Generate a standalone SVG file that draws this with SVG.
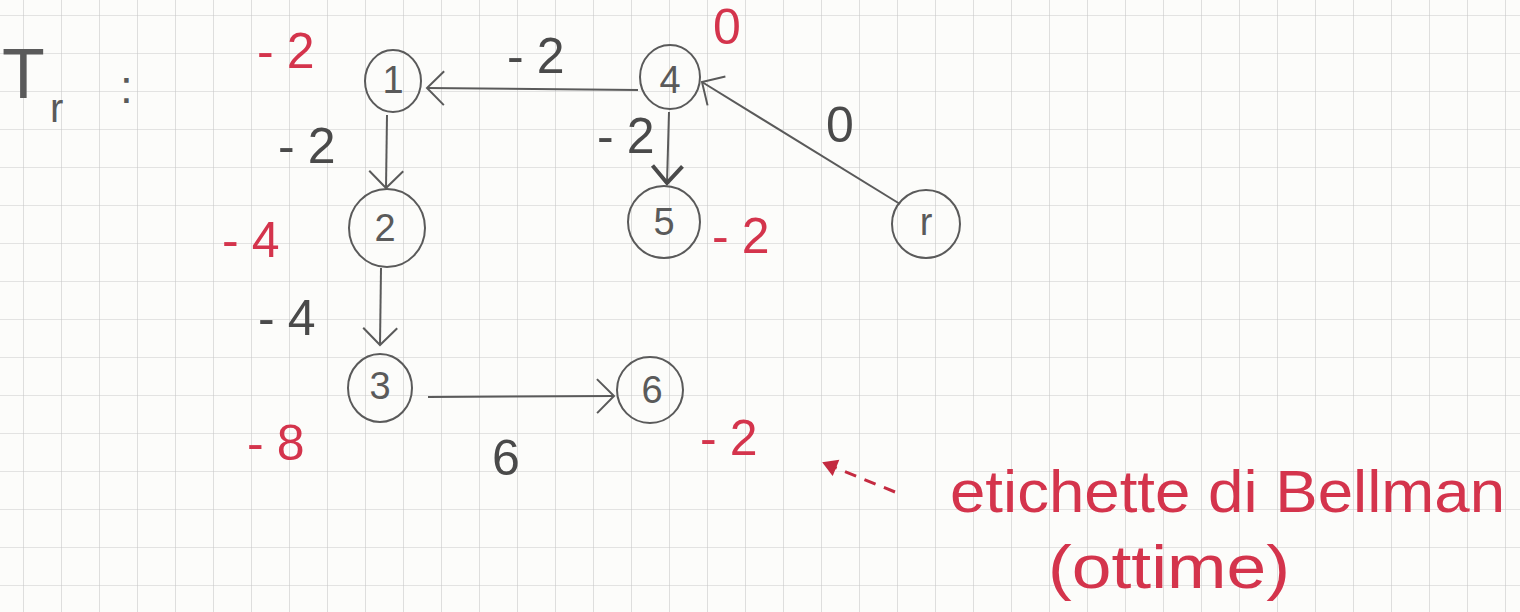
<svg xmlns="http://www.w3.org/2000/svg" width="1520" height="612" viewBox="0 0 1520 612">
<style>
.node ellipse{fill:none;stroke:#5a5a5a;stroke-width:2}
.node text{font-family:"Liberation Sans",Arial,sans-serif;font-size:38px;fill:#5a5a5a;text-anchor:middle;dominant-baseline:central}
.lbl{font-family:"Liberation Sans",Arial,sans-serif;font-size:50px;fill:#4a4a4a;letter-spacing:13px}
.red{font-family:"Liberation Sans",Arial,sans-serif;font-size:50px;fill:#d4344c;letter-spacing:13px}
.edge{stroke:#5a5a5a;stroke-width:2;fill:none}
</style>
<defs>
<pattern id="grid" x="23" y="15" width="38" height="38" patternUnits="userSpaceOnUse">
<path d="M0,0 H38 M0,0 V38" stroke="#c9c9c9" stroke-width="1.2" fill="none"/>
</pattern>
<marker id="arr" viewBox="-20 -20 24 40" markerWidth="24" markerHeight="40" refX="0" refY="0" orient="auto" markerUnits="userSpaceOnUse">
<path d="M-17,-17 L0,0 L-17,17" stroke="#5a5a5a" stroke-width="2" fill="none"/>
</marker>
<marker id="arrb" viewBox="-20 -20 24 40" markerWidth="24" markerHeight="40" refX="0" refY="0" orient="auto" markerUnits="userSpaceOnUse">
<path d="M-17,-15 L0,0 L-17,15" stroke="#4a4a4a" stroke-width="4" fill="none"/>
</marker>
<marker id="arrr" viewBox="-14 -10 16 20" markerWidth="16" markerHeight="20" refX="0" refY="0" orient="auto" markerUnits="userSpaceOnUse">
<path d="M-12,-7 L0,0 L-12,7 Z" fill="#c42a40" stroke="#c42a40" stroke-width="2"/>
</marker>
</defs>
<rect width="1520" height="612" fill="#fcfcfa"/>
<rect width="1520" height="612" fill="url(#grid)"/>

<g id="title" fill="#5a5a5a" font-family="'Liberation Sans',Arial,sans-serif">
<text x="2" y="98" font-size="70">T</text>
<text x="50" y="122" font-size="40">r</text>
<text x="120" y="103" font-size="46">:</text>
</g>

<g id="connectors">
<line class="edge" x1="638" y1="90" x2="427" y2="88" marker-end="url(#arr)"/>
<line class="edge" x1="387" y1="115" x2="386" y2="188" marker-end="url(#arr)"/>
<line class="edge" x1="381" y1="268" x2="380" y2="345" marker-end="url(#arr)"/>
<line class="edge" x1="428" y1="397" x2="614" y2="396" marker-end="url(#arr)"/>
<line class="edge" x1="669" y1="112" x2="667" y2="183" marker-end="url(#arrb)"/>
<line class="edge" x1="900" y1="204" x2="702" y2="82" marker-end="url(#arr)"/>
</g>

<g id="node-1" class="node"><ellipse cx="393" cy="81" rx="28" ry="31"/><text x="393" y="80">1</text></g>
<g id="node-4" class="node"><ellipse cx="670" cy="77" rx="30" ry="32"/><text x="670" y="80">4</text></g>
<g id="node-2" class="node"><ellipse cx="387" cy="228" rx="38" ry="39"/><text x="385" y="228">2</text></g>
<g id="node-5" class="node"><ellipse cx="664" cy="222" rx="36" ry="36"/><text x="664" y="222">5</text></g>
<g id="node-r" class="node"><ellipse cx="926" cy="224" rx="34" ry="34"/><text x="926" y="222">r</text></g>
<g id="node-3" class="node"><ellipse cx="380" cy="388" rx="32" ry="34"/><text x="380" y="386">3</text></g>
<g id="node-6" class="node"><ellipse cx="650" cy="390" rx="33" ry="33"/><text x="652" y="390">6</text></g>

<g id="edge-labels">
<text class="lbl" x="507" y="73">-2</text>
<text class="lbl" x="278" y="163">-2</text>
<text class="lbl" x="258" y="335">-4</text>
<text class="lbl" x="492" y="475">6</text>
<text class="lbl" x="597" y="153" font-size="42">-2</text>
<text class="lbl" x="826" y="142" font-size="42">0</text>
</g>

<g id="bellman-labels">
<text class="red" x="257" y="68">-2</text>
<text class="red" x="222" y="257">-4</text>
<text class="red" x="247" y="460">-8</text>
<text class="red" x="713" y="44" font-size="30" letter-spacing="0">0</text>
<text class="red" x="712" y="253">-2</text>
<text class="red" x="700" y="455">-2</text>
</g>

<g id="annotation">
<line x1="895" y1="492" x2="824" y2="463" stroke="#c42a40" stroke-width="3" stroke-dasharray="12,9" marker-end="url(#arrr)"/>
<text x="950" y="512" font-family="'Liberation Sans',Arial,sans-serif" font-size="60" fill="#d4344c" textLength="555" lengthAdjust="spacingAndGlyphs">etichette di Bellman</text>
<text x="1048" y="588" font-family="'Liberation Sans',Arial,sans-serif" font-size="62" fill="#d4344c" textLength="242" lengthAdjust="spacingAndGlyphs">(ottime)</text>
</g>
</svg>
